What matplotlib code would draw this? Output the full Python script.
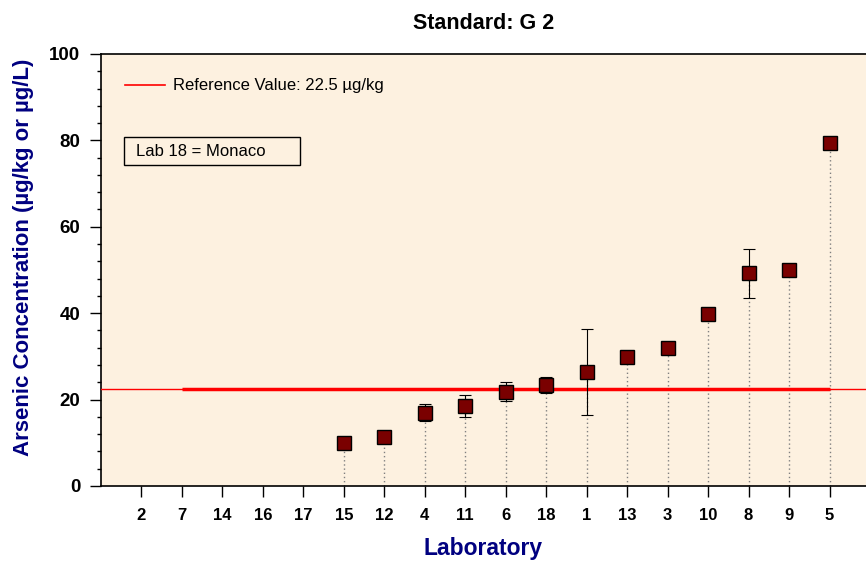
import numpy as np
import matplotlib
matplotlib.use("Agg")
import matplotlib.pyplot as plt
from matplotlib.ticker import MultipleLocator
from matplotlib.patches import Rectangle

plt.rcParams['font.family'] = ['Liberation Sans', 'DejaVu Sans']

# lab order along the x axis
labs = ['2', '7', '14', '16', '17', '15', '12', '4', '11', '6', '18', '1', '13', '3', '10', '8', '9', '5']
# results (None = no result reported)
values = [None, None, None, None, None, 10.0, 11.3, 17.0, 18.5, 21.8, 23.3, 26.3, 29.9, 31.9, 39.9, 49.2, 49.9, 79.4]
err_low = [None, None, None, None, None, 0, 0, 2.0, 2.6, 2.1, 1.8, 9.8, 0, 0, 0, 5.7, 0, 0]
err_high = [None, None, None, None, None, 0, 0, 1.9, 2.5, 2.3, 1.9, 10.0, 0, 0, 0, 5.7, 0, 0]
ref_value = 22.5

fig = plt.figure(figsize=(8.66, 5.68), dpi=100)
ax = fig.add_axes([0.1166, 0.1444, 0.8834, 0.7606])
ax.set_facecolor('#fdf1e0')

pos = np.arange(1, len(labs) + 1)
idx = [i for i, v in enumerate(values) if v is not None]
x = pos[idx]
y = np.array([values[i] for i in idx])
lo = np.array([err_low[i] for i in idx])
hi = np.array([err_high[i] for i in idx])

# dotted drop lines
ax.vlines(x, 0, y, colors='#808080', linestyles=(0, (1, 2)), linewidth=1, zorder=2)

# reference value: thin across, thick over the lab range
ax.axhline(ref_value, color='red', lw=1, zorder=3)
ax.plot([pos[1], pos[-1]], [ref_value, ref_value], color='red', lw=2.5, zorder=3,
        solid_capstyle='butt')

has_err = (lo > 0) | (hi > 0)
ax.errorbar(x[has_err], y[has_err], yerr=[lo[has_err], hi[has_err]], fmt='none',
            ecolor='black', elinewidth=0.8, capsize=4, capthick=0.8, zorder=4)
ax.plot(x, y, 's', ms=10.5, mfc='#7a0000', mec='black', mew=1, zorder=5)

ax.set_xlim(0, 18.9)
ax.set_ylim(0, 100)
ax.set_xticks(pos)
ax.set_xticklabels(labs, fontsize=12, fontweight='bold')
ax.yaxis.set_major_locator(MultipleLocator(20))
ax.yaxis.set_minor_locator(MultipleLocator(4))
ax.tick_params(axis='y', which='major', length=8, width=1, labelsize=13.5, pad=7, direction='out')
ax.tick_params(axis='y', which='minor', length=3, width=1, direction='out')
ax.tick_params(axis='x', which='major', length=8, width=1, pad=8, direction='out')
for lbl in ax.get_yticklabels():
    lbl.set_fontweight('bold')

ax.spines['right'].set_visible(False)
for s in ['left', 'bottom', 'top']:
    ax.spines[s].set_linewidth(1.2)

ax.set_title('Standard: G 2', fontsize=15.5, fontweight='bold', pad=18)
ax.set_xlabel('Laboratory', fontsize=16.5, fontweight='bold', color='#000080', labelpad=10)
ax.set_ylabel('Arsenic Concentration (µg/kg or µg/L)', fontsize=16, fontweight='bold',
              color='#000080')
ax.yaxis.set_label_coords(-0.088, 0.53)

# legend-like annotations
ax.plot([0.59, 1.58], [92.8, 92.8], color='red', lw=1.2)
ax.text(1.78, 92.8, 'Reference Value: 22.5 µg/kg', fontsize=12, va='center')
ax.add_patch(Rectangle((0.57, 74.3), 4.35, 6.5, fc='none', ec='black', lw=1))
ax.text(0.86, 77.5, 'Lab 18 = Monaco', fontsize=12, va='center')

fig.savefig('out.png', dpi=100)
